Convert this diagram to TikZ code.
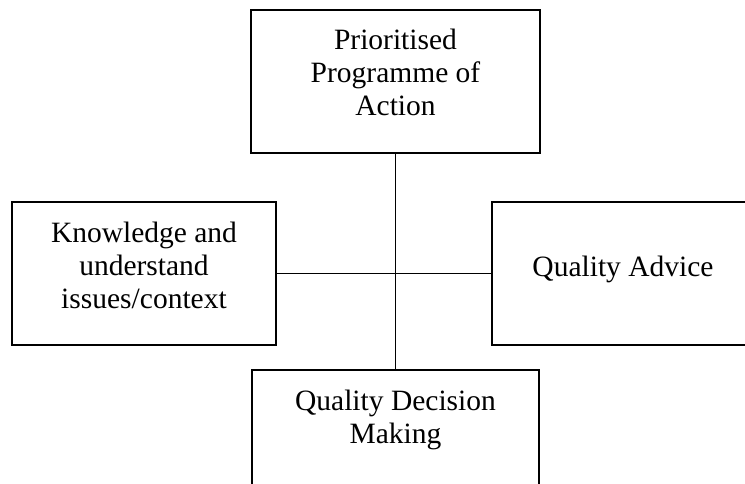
\documentclass[tikz,border=0pt]{standalone}
\usepackage{fontspec}
\setmainfont{Liberation Serif}
\usetikzlibrary{positioning}

\tikzset{
	box/.style={draw, line width=1.5pt, inner sep=0pt},
	boxtext/.style={align=center, inner sep=0pt, font=\fontsize{29.5}{33}\selectfont},
}

\begin{document}
\begin{tikzpicture}[x=1pt,y=-1pt]
	
	% Fix the page size
	\useasboundingbox (0,0) rectangle (745,484);
	\clip (0,0) rectangle (745,484);
	
	% Draw the four boxes
	\node[box, minimum width=289pt, minimum height=143pt] (plan) at (395.5,81.5) {};
	\node[box, minimum width=264pt, minimum height=143pt] (knowledge) at (144,273.5) {};
	\node[box, minimum width=262pt, minimum height=143pt] (advice) at (623,273.5) {};
	\node[box, minimum width=287pt, minimum height=143pt] (decision) at (395.5,441.5) {};
	
	% Texts in the boxes
	\node[boxtext] (plantext) at ([yshift=9pt]plan.center) {Prioritised\\Programme of\\Action};
	\node[boxtext] (knowledgetext) at ([yshift=8.5pt]knowledge.center) {Knowledge and\\understand\\issues/context};
	\node[boxtext] (advicetext) at ([yshift=4pt]advice.center) {Quality Advice};
	\node[boxtext] (decisiontext) at ([yshift=22pt]decision.center) {Quality Decision\\Making};
	
	% Draw the connectors
	\draw[line width=1.5pt] (plan.south) -- (decision.north);
	\draw[line width=1.5pt] (knowledge.east) -- (advice.west);

\end{tikzpicture}
\end{document}
